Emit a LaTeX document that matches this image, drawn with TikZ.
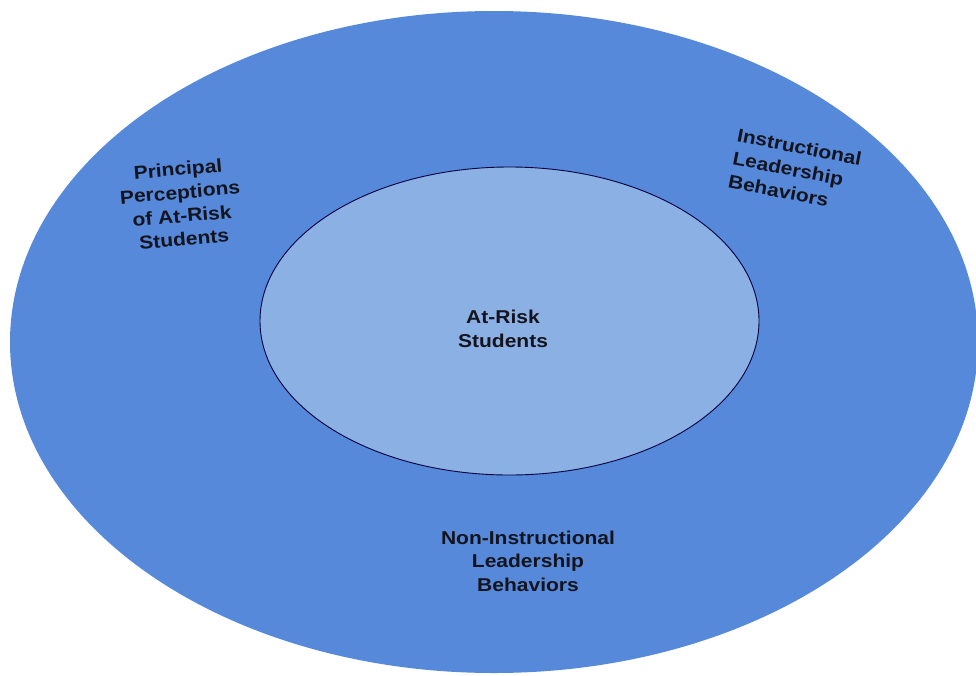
\documentclass[tikz,border=0pt]{standalone}
\usepackage{fontspec}
\setmainfont[FakeStretch=1.13]{Liberation Sans}
\usetikzlibrary{shapes.geometric}
\definecolor{outerblue}{RGB}{86,137,217}
\definecolor{innerblue}{RGB}{139,176,228}
\definecolor{txt}{RGB}{20,20,30}
\begin{document}
\begin{tikzpicture}[x=1pt,y=-1pt,
  lbl/.style={font=\fontsize{18.6}{23.5}\selectfont\bfseries, text=txt, align=center, inner sep=0pt}]
\useasboundingbox (0,0) rectangle (976,675);
\begin{scope}
\clip (0,0) rectangle (976,675);
\fill[outerblue] (494,342) ellipse [x radius=484, y radius=331];
\end{scope}
\node[ellipse, draw=black!75!blue, line width=0.9pt, fill=innerblue, minimum width=499, minimum height=308, inner sep=0pt] (inner) at (509.5,321) {};
\node[lbl] (risk) at (503,329) {At-Risk\\Students};
\node[lbl, rotate=5] (ppar) at (181,204) {Principal\\Perceptions\\of At-Risk\\Students};
\node[lbl, rotate=-11, align=left] (ilb) at (795,170) {Instructional\\Leadership\\Behaviors};
\node[lbl] (nilb) at (528,561) {Non-Instructional\\Leadership\\Behaviors};
\end{tikzpicture}
\end{document}
